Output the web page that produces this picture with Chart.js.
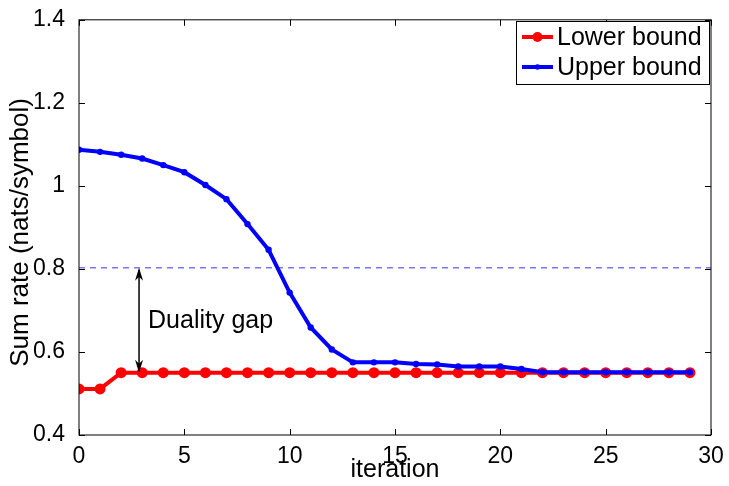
<!DOCTYPE html>
<html>
<head>
<meta charset="utf-8">
<script src="https://cdn.jsdelivr.net/npm/chart.js@4.4.1/dist/chart.umd.min.js"></script>
<style>
  html, body { margin: 0; padding: 0; background: #fff; }
</style>
</head>
<body>
<canvas id="myChart" width="729" height="486"></canvas>
<script>
/* data */
const iterations = [0,1,2,3,4,5,6,7,8,9,10,11,12,13,14,15,16,17,18,19,20,21,22,23,24,25,26,27,28,29];
const lowerBound = [0.511,0.511,0.55,0.55,0.55,0.55,0.55,0.55,0.55,0.55,0.55,0.55,0.55,0.55,0.55,
                    0.55,0.55,0.55,0.55,0.55,0.55,0.55,0.55,0.55,0.55,0.55,0.55,0.55,0.55,0.55];
const upperBound = [1.087,1.082,1.075,1.066,1.050,1.033,1.002,0.968,0.908,0.846,0.743,0.659,0.606,0.575,0.575,
                    0.575,0.571,0.570,0.565,0.565,0.565,0.559,0.551,0.551,0.551,0.551,0.551,0.551,0.551,0.551];
const dualLevel = 0.803;
const gapX = 2.85;
const xTicks = [0,5,10,15,20,25,30];
const yTicks = [0.4,0.6,0.8,1,1.2,1.4];
const labels = ['Lower bound', 'Upper bound'];
const xTitle = 'iteration';
const yTitle = 'Sum rate (nats/symbol)';

const font = 'Liberation Sans, Arial, Helvetica, sans-serif';

/* Rahmen, Ticks, Pfeil, Legende, Achsentitel */
const decor = {
  id: 'decor',
  afterDatasetsDraw(chart) {
    const c = chart.ctx, a = chart.chartArea;
    const xs = chart.scales.x, ys = chart.scales.y;
    c.save();
    c.strokeStyle = '#000';
    c.lineWidth = 1;
    c.strokeRect(a.left, a.top, a.right - a.left, a.bottom - a.top);
    // inward ticks
    xTicks.forEach(v => {
      const px = Math.round(xs.getPixelForValue(v)) + 0.5;
      c.beginPath();
      c.moveTo(px, a.bottom); c.lineTo(px, a.bottom - 6);
      c.moveTo(px, a.top); c.lineTo(px, a.top + 6);
      c.stroke();
    });
    yTicks.forEach(v => {
      const py = Math.round(ys.getPixelForValue(v)) + 0.5;
      c.beginPath();
      c.moveTo(a.left, py); c.lineTo(a.left + 6, py);
      c.moveTo(a.right, py); c.lineTo(a.right - 6, py);
      c.stroke();
    });
    // duality gap arrow
    const ax = xs.getPixelForValue(gapX);
    const y1 = ys.getPixelForValue(dualLevel);
    const y2 = ys.getPixelForValue(lowerBound[2]);
    c.lineWidth = 1.5;
    c.beginPath();
    c.moveTo(ax, y1 + 2); c.lineTo(ax, y2 - 2);
    c.stroke();
    c.fillStyle = '#000';
    c.beginPath();
    c.moveTo(ax, y1); c.lineTo(ax - 4, y1 + 13); c.lineTo(ax, y1 + 9); c.lineTo(ax + 4, y1 + 13); c.closePath();
    c.fill();
    c.beginPath();
    c.moveTo(ax, y2); c.lineTo(ax - 4, y2 - 13); c.lineTo(ax, y2 - 9); c.lineTo(ax + 4, y2 - 13); c.closePath();
    c.fill();
    c.font = '25px ' + font;
    c.textBaseline = 'middle';
    c.textAlign = 'left';
    c.fillText('Duality gap', ax + 9, (y1 + y2) / 2 + 1);
    // legend
    const lx = 516, ly = 21, lw = 193, lh = 63;
    c.fillStyle = '#fff';
    c.fillRect(lx, ly, lw, lh);
    c.lineWidth = 1;
    c.strokeStyle = '#000';
    c.strokeRect(lx + 0.5, ly + 0.5, lw, lh);
    const rows = [
      { label: labels[0], color: '#ff0000', r: 5, y: ly + 16 },
      { label: labels[1], color: '#0000ff', r: 2.8, y: ly + 46 }
    ];
    rows.forEach(row => {
      c.strokeStyle = row.color;
      c.fillStyle = row.color;
      c.lineWidth = 4;
      c.beginPath();
      c.moveTo(lx + 6, row.y); c.lineTo(lx + 37, row.y);
      c.stroke();
      c.beginPath();
      c.arc(lx + 21.5, row.y, row.r, 0, Math.PI * 2);
      c.fill();
      c.fillStyle = '#000';
      c.font = '25px ' + font;
      c.fillText(row.label, lx + 41, row.y + 1);
    });
    // axis titles
    c.font = '25px ' + font;
    c.textAlign = 'center';
    c.textBaseline = 'alphabetic';
    c.fillText(xTitle, (a.left + a.right) / 2, 477);
    c.save();
    c.translate(28, (a.top + a.bottom) / 2 + 5);
    c.rotate(-Math.PI / 2);
    c.font = '26px ' + font;
    c.fillText(yTitle, 0, 0);
    c.restore();
    c.restore();
  }
};

const ctx = document.getElementById('myChart');

new Chart(ctx, {
  type: 'line',
  data: {
    datasets: [{
      label: labels[1],
      data: iterations.map((x, i) => ({ x: x, y: upperBound[i] })),
      borderColor: '#0000ff',
      backgroundColor: '#0000ff',
      borderWidth: 4,
      pointRadius: 3.2,
      pointBorderWidth: 0,
      tension: 0,
      order: 0
    }, {
      label: labels[0],
      data: iterations.map((x, i) => ({ x: x, y: lowerBound[i] })),
      borderColor: '#ff0000',
      backgroundColor: '#ff0000',
      borderWidth: 4,
      pointRadius: 5.5,
      pointBorderWidth: 0,
      tension: 0,
      order: 1
    }, {
      label: 'gap',
      data: [{ x: 0, y: dualLevel }, { x: 30, y: dualLevel }],
      borderColor: '#7878ff',
      borderWidth: 1.5,
      borderDash: [6, 5],
      pointRadius: 0,
      order: 2
    }]
  },
  options: {
    responsive: false,
    animation: false,
    devicePixelRatio: 1,
    layout: { padding: { top: 14, right: 18, left: 0, bottom: 0 } },
    plugins: {
      legend: { display: false },
      tooltip: { enabled: false }
    },
    scales: {
      x: {
        type: 'linear',
        min: 0,
        max: 30,
        afterBuildTicks: s => { s.ticks = xTicks.map(v => ({ value: v })); },
        afterFit: s => { s.height = 51; },
        grid: { display: false },
        border: { display: false },
        ticks: { color: '#000', font: { family: font, size: 23 }, padding: 0, maxRotation: 0 }
      },
      y: {
        min: 0.4,
        max: 1.4,
        afterBuildTicks: s => { s.ticks = yTicks.map(v => ({ value: v })); },
        afterFit: s => { s.width = 79; },
        grid: { display: false },
        border: { display: false },
        ticks: {
          color: '#000',
          font: { family: font, size: 23 },
          padding: 6,
          callback: v => String(v)
        }
      }
    }
  },
  plugins: [decor]
});
</script>
</body>
</html>
